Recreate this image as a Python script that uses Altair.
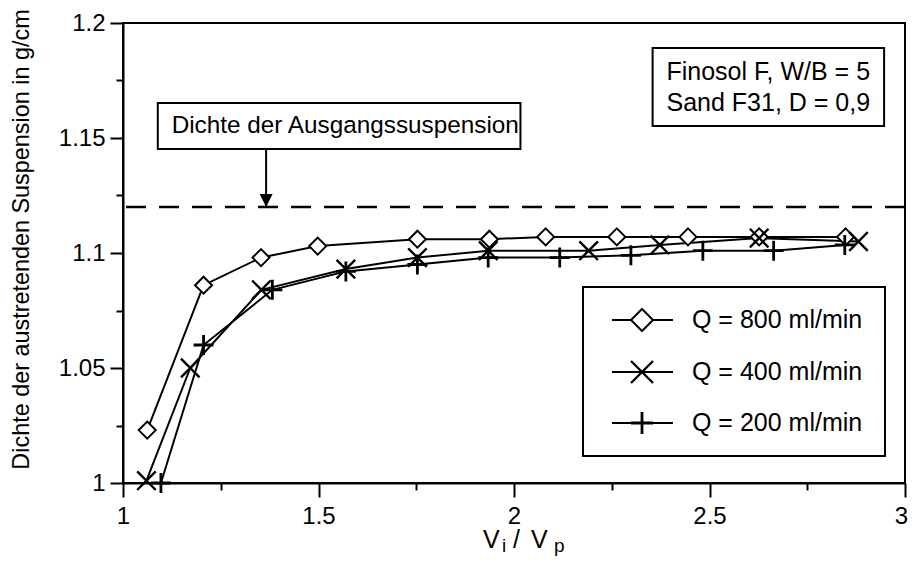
import altair as alt
import pandas as pd

FONT = "Liberation Sans"

series = ["Q = 800 ml/min", "Q = 400 ml/min", "Q = 200 ml/min"]

x_800 = [1.062, 1.206, 1.353, 1.498, 1.753, 1.937, 2.081, 2.263, 2.445, 2.627, 2.848]
y_800 = [1.023, 1.086, 1.098, 1.103, 1.106, 1.106, 1.107, 1.107, 1.107, 1.107, 1.107]

x_400 = [1.060, 1.172, 1.354, 1.570, 1.753, 1.934, 2.191, 2.373, 2.627, 2.881]
y_400 = [1.001, 1.050, 1.084, 1.093, 1.098, 1.101, 1.101, 1.1035, 1.1065, 1.105]

x_200 = [1.097, 1.206, 1.382, 1.570, 1.753, 1.934, 2.117, 2.299, 2.483, 2.664, 2.846]
y_200 = [1.000, 1.060, 1.084, 1.092, 1.095, 1.098, 1.098, 1.099, 1.101, 1.101, 1.1035]

x_ticks = [1, 1.5, 2, 2.5, 3]
x_minor = [1.25, 1.75, 2.25, 2.75]
y_ticks = [1, 1.05, 1.1, 1.15, 1.2]
y_minor = [1.025, 1.075, 1.125, 1.175]

ausgang = 1.12  # Dichte der Ausgangssuspension
note_label = "Dichte der Ausgangssuspension"
info_lines = ["Finosol F, W/B = 5", "Sand F31, D = 0,9"]
y_title = "Dichte der austretenden Suspension in g/cm"
x_title_parts = ["V", "i", "/", "V", "p"]

# ---- data tables -------------------------------------------------------
rows = []
for name, xs_, ys_ in zip(series, [x_800, x_400, x_200], [y_800, y_400, y_200]):
    for a, b in zip(xs_, ys_):
        rows.append({"series": name, "x": a, "y": b})
df = pd.DataFrame(rows)

# annotation placement (data coordinates)
note_box = pd.DataFrame([{"x": 1.089, "x2": 2.0165, "y": 1.1452, "y2": 1.1652}])
note_txt = pd.DataFrame([{"x": 1.1245, "y": 1.1552, "t": note_label}])
arrow = pd.DataFrame([{"x": 1.366, "y": 1.1452, "y2": ausgang}])
info_box = pd.DataFrame([{"x": 2.3545, "x2": 2.9466, "y": 1.1552, "y2": 1.1891}])
info_txt = pd.DataFrame([{"x": 2.390, "y": 1.1787, "t": info_lines[0]},
                         {"x": 2.390, "y": 1.1652, "t": info_lines[1]}])
ref = pd.DataFrame([{"y": ausgang}])

# legend placement (data coordinates)
leg_frame = pd.DataFrame([{"x": 2.1765, "x2": 2.9488, "y": 1.01174, "y2": 1.08522}])
leg_rows = [1.07087, 1.04826, 1.02609]
leg = pd.DataFrame({"series": series, "y": leg_rows,
                    "x1": 2.2506, "x2": 2.4066, "xm": 2.3274, "xt": 2.4552})

# x-axis title pieces (pixel offsets from the plot's top-left corner)
xt = pd.DataFrame({"t": x_title_parts,
                   "px": [360, 379, 390, 408, 431],
                   "py": [525, 529, 525, 525, 529],
                   "fs": [25, 19, 25, 25, 19]})

# ---- scales / axes -----------------------------------------------------
xs = alt.Scale(domain=[1, 3], nice=False, zero=False)
ys = alt.Scale(domain=[1, 1.2], nice=False, zero=False)

common = dict(tickWidth=2, tickColor="black", domainColor="black", domainWidth=2,
              grid=False, labelFont=FONT, labelColor="black", labelFlush=False,
              labelOverlap=False, titleFont=FONT, titleColor="black",
              titleFontWeight="normal")

x_major = alt.Axis(values=x_ticks, format="~g", orient="bottom", tickSize=14,
                   labelFontSize=24, labelPadding=7, title=None,
                   labelOffset={"condition": {"test": "datum.value == 3", "value": -4}, "value": 0},
                   **common)
y_major = alt.Axis(values=y_ticks, format="~g", orient="left", tickSize=13,
                   labelFontSize=24, labelPadding=5, title=y_title,
                   titleFontSize=23.4, titleX=-102, titleY=216, titleAngle=270,
                   titleAlign="center", titleBaseline="middle", **common)
x_min = alt.Axis(values=x_minor, orient="bottom", tickSize=7, tickWidth=2,
                 tickColor="black", domain=False, labels=False, grid=False, title=None)
y_min = alt.Axis(values=y_minor, orient="left", tickSize=7, tickWidth=2,
                 tickColor="black", domain=False, labels=False, grid=False, title=None)

# ---- marker shapes -----------------------------------------------------
diamond = "M0,-1L1,0L0,1L-1,0Z"
xmark = "M-1,-1L1,1M-1,1L1,-1"
plus = "M0,-1L0,1M-1,0L1,0"
shape_scale = alt.Scale(domain=series, range=[diamond, xmark, plus])
sw_scale = alt.Scale(domain=series, range=[2, 2.8, 2.6])

X = lambda f: alt.X(f, scale=xs, axis=None)
Y = lambda f: alt.Y(f, scale=ys, axis=None)

lines = alt.Chart(df).mark_line(color="black", strokeWidth=2).encode(
    x=alt.X("x:Q", scale=xs, axis=x_major),
    y=alt.Y("y:Q", scale=ys, axis=y_major),
    detail="series:N",
    order="x:Q",
)

points = alt.Chart(df).mark_point(fill="white", stroke="black", opacity=1, filled=False).encode(
    x=alt.X("x:Q", scale=xs, axis=x_min),
    y=alt.Y("y:Q", scale=ys, axis=y_min),
    shape=alt.Shape("series:N", scale=shape_scale, legend=None),
    size=alt.Size("series:N", scale=alt.Scale(domain=series, range=[289, 400, 361]), legend=None),
    strokeWidth=alt.StrokeWidth("series:N", scale=sw_scale, legend=None),
)

dashed = alt.Chart(ref).mark_rule(color="black", strokeWidth=2.5, strokeDash=[20, 13]).encode(
    y=Y("y:Q")
)

shaft = alt.Chart(arrow).mark_rule(color="black", strokeWidth=2).encode(
    x=X("x:Q"), y=Y("y:Q"), y2="y2:Q",
)
head = alt.Chart(arrow).mark_point(shape="M-1,-2L1,-2L0,0Z", size=169, filled=True,
                                   color="black", opacity=1).encode(
    x=X("x:Q"), y=Y("y2:Q"),
)

box1 = alt.Chart(note_box).mark_rect(fill="white", stroke="black", strokeWidth=2).encode(
    x=X("x:Q"), x2="x2:Q", y=Y("y:Q"), y2="y2:Q",
)
txt1 = alt.Chart(note_txt).mark_text(align="left", baseline="middle", font=FONT,
                                     fontSize=24.3, color="black").encode(
    x=X("x:Q"), y=Y("y:Q"), text="t:N",
)
box2 = alt.Chart(info_box).mark_rect(fill="white", stroke="black", strokeWidth=2).encode(
    x=X("x:Q"), x2="x2:Q", y=Y("y:Q"), y2="y2:Q",
)
txt2 = alt.Chart(info_txt).mark_text(align="left", baseline="middle", font=FONT,
                                     fontSize=25, color="black").encode(
    x=X("x:Q"), y=Y("y:Q"), text="t:N",
)

# legend
leg_box = alt.Chart(leg_frame).mark_rect(fill="white", stroke="black", strokeWidth=2).encode(
    x=X("x:Q"), x2="x2:Q", y=Y("y:Q"), y2="y2:Q",
)
leg_lines = alt.Chart(leg).mark_rule(color="black", strokeWidth=2).encode(
    x=X("x1:Q"), x2="x2:Q", y=Y("y:Q"),
)
leg_marks = alt.Chart(leg).mark_point(fill="white", stroke="black", opacity=1,
                                      filled=False, size=484).encode(
    x=X("xm:Q"), y=Y("y:Q"),
    shape=alt.Shape("series:N", scale=shape_scale, legend=None),
    strokeWidth=alt.StrokeWidth("series:N", scale=sw_scale, legend=None),
)
leg_text = alt.Chart(leg).mark_text(align="left", baseline="middle", font=FONT,
                                    fontSize=25, color="black").encode(
    x=X("xt:Q"), y=Y("y:Q"), text="series:N",
)

# x-axis title V_i / V_p with real subscripts
xtitle = alt.Chart(xt).mark_text(align="left", baseline="alphabetic", font=FONT,
                                 color="black").encode(
    x=alt.X("px:Q", scale=None, axis=None),
    y=alt.Y("py:Q", scale=None, axis=None),
    size=alt.Size("fs:Q", scale=None, legend=None),
    text="t:N",
)

chart = alt.layer(
    lines, points, dashed, shaft, head, box1, txt1, box2, txt2,
    leg_box, leg_lines, leg_marks, leg_text, xtitle
).resolve_axis(
    x="independent", y="independent"
).properties(
    width=782, height=460,
    padding={"left": 115, "top": 15, "right": 3, "bottom": 73},
    autosize=alt.AutoSizeParams(type="none"),
).configure_view(stroke="black", strokeWidth=2)

chart.save("out.html", embed_options={"renderer": "svg", "actions": False})
